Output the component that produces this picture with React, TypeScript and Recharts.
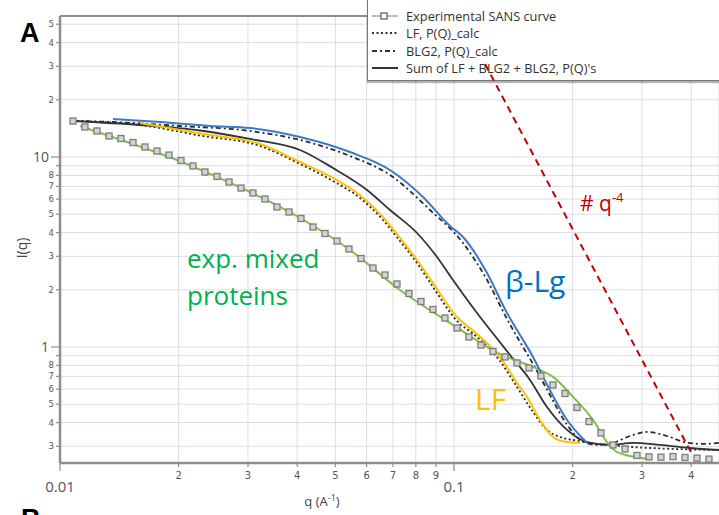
import React from 'react';
import { LineChart, Line, XAxis, YAxis, CartesianGrid, ReferenceLine } from 'recharts';

const W = 719;
const H = 515;
const MARGIN = { top: 16, right: 0, left: 0, bottom: 0 };
const X_DOMAIN: [number, number] = [0.01, 0.4705];
const Y_DOMAIN: [number, number] = [0.2451, 55.23];

// axis ticks
const xTicks = [0.01, 0.02, 0.03, 0.04, 0.05, 0.06, 0.07, 0.08, 0.09, 0.1, 0.2, 0.3, 0.4];
const xTickLabels = ['0.01', '2', '3', '4', '5', '6', '7', '8', '9', '0.1', '2', '3', '4'];
const yTicks = [0.3, 0.4, 0.5, 0.6, 0.7, 0.8, 0.9, 1, 2, 3, 4, 5, 6, 7, 8, 9, 10, 20, 30, 40, 50];
const yTickLabels = ['3', '4', '5', '6', '7', '8', '', '1', '2', '3', '4', '5', '6', '7', '8', '', '10', '2', '3', '4', '5'];
const majorTicks = [0.01, 0.1, 1, 10];

// Experimental SANS curve (squares)
const expQ = [0.01079, 0.01157, 0.01241, 0.01332, 0.01428, 0.01532, 0.01643, 0.01763, 0.01891, 0.02028,
  0.02175, 0.02333, 0.02503, 0.02685, 0.0288, 0.03089, 0.03313, 0.03554, 0.03812, 0.04089,
  0.04386, 0.04705, 0.05047, 0.05413, 0.05807, 0.06228, 0.06681, 0.07166, 0.07687, 0.08245,
  0.08844, 0.09487, 0.1018, 0.1091, 0.1171, 0.1256, 0.1347, 0.1445, 0.155, 0.1662,
  0.1783, 0.1913, 0.2052, 0.2201, 0.236, 0.2532, 0.2716, 0.2913, 0.3125, 0.3352,
  0.3595, 0.3857, 0.4137, 0.4437];
const expI = [15.47, 14.38, 13.71, 12.9, 12.51, 11.92, 11.29, 10.75, 10.24, 9.585,
  8.967, 8.337, 7.898, 7.385, 6.867, 6.464, 6.012, 5.456, 5.135, 4.746,
  4.281, 3.957, 3.613, 3.28, 2.922, 2.604, 2.393, 2.146, 1.912, 1.736,
  1.576, 1.421, 1.259, 1.129, 1.024, 0.947, 0.886, 0.824, 0.775, 0.704,
  0.631, 0.569, 0.48, 0.405, 0.353, 0.305, 0.2904, 0.2685, 0.264, 0.263,
  0.265, 0.262, 0.26, 0.257];

// exp. mixed proteins (green)
const greenQ = [0.01124, 0.01479, 0.01981, 0.02403, 0.03035, 0.04066, 0.05445, 0.07293, 0.09769, 0.1308,
  0.1653, 0.1784, 0.2005, 0.2253, 0.2445, 0.2593, 0.2797, 0.3144];
const greenI = [14.56, 11.99, 9.643, 8.137, 6.543, 4.775, 3.24, 1.995, 1.338, 0.919,
  0.757, 0.696, 0.546, 0.413, 0.316, 0.28, 0.267, 0.257];

// beta-Lg (blue)
const blueQ = [0.01363, 0.01794, 0.02403, 0.03035, 0.04066, 0.05445, 0.06879, 0.08344, 0.09769, 0.1054,
  0.1213, 0.1363, 0.1471, 0.1587, 0.1683, 0.1936, 0.2176];
const blueI = [15.85, 15.28, 14.56, 14.21, 12.74, 10.62, 8.542, 6.16, 4.333, 3.793,
  2.451, 1.51, 1.157, 0.886, 0.696, 0.413, 0.313];

// BLG2, P(Q)_calc (dash-dot)
const blgQ = [0.01079, 0.01363, 0.02016, 0.03035, 0.04066, 0.05445, 0.06879, 0.08693, 0.1054, 0.1213,
  0.1363, 0.1471, 0.1587, 0.1752, 0.1936, 0.2113, 0.2307, 0.2533, 0.2797, 0.309,
  0.3472, 0.3903, 0.4285, 0.4705];
const blgI = [15.47, 15.28, 14.56, 13.71, 12.29, 10.12, 8.04, 5.262, 3.526, 2.252,
  1.404, 1.062, 0.814, 0.559, 0.389, 0.32, 0.305, 0.313, 0.34, 0.357,
  0.34, 0.313, 0.309, 0.313];

// LF (orange)
const lfQ = [0.01596, 0.02266, 0.03219, 0.04066, 0.04931, 0.05773, 0.06603, 0.07293, 0.08054, 0.08846,
  0.1018, 0.1144, 0.1308, 0.1445, 0.1532, 0.1653, 0.1784, 0.1936, 0.2088];
const lfI = [15.1, 13.3, 11.71, 9.412, 7.755, 6.31, 4.833, 3.748, 2.87, 2.172,
  1.438, 1.171, 0.886, 0.647, 0.546, 0.413, 0.336, 0.316, 0.313];

// LF, P(Q)_calc (dotted)
const lfcQ = [0.01079, 0.01596, 0.02266, 0.03219, 0.04066, 0.04931, 0.05773, 0.06603, 0.07293, 0.08054,
  0.08846, 0.1018, 0.1144, 0.1308, 0.1445, 0.1587, 0.1722, 0.1858, 0.2005, 0.2214,
  0.2445, 0.2797, 0.3144, 0.3747, 0.4705];
const lfcI = [15.47, 14.74, 12.97, 11.43, 9.187, 7.476, 6.085, 4.661, 3.613, 2.768,
  2.069, 1.371, 1.129, 0.844, 0.616, 0.455, 0.366, 0.336, 0.324, 0.313,
  0.305, 0.298, 0.294, 0.29, 0.287];

// Sum of LF + BLG2 + BLG2 (solid black)
const sumQ = [0.01079, 0.01596, 0.02266, 0.03035, 0.04066, 0.04931, 0.06015, 0.06879, 0.08054, 0.09055,
  0.09942, 0.1144, 0.1271, 0.1387, 0.1559, 0.1722, 0.1936, 0.2176, 0.2489, 0.2847,
  0.3333, 0.3972, 0.4705];
const sumI = [15.47, 14.74, 13.79, 12.44, 10.89, 8.751, 6.706, 5.262, 3.981, 2.976,
  2.252, 1.51, 1.142, 0.908, 0.671, 0.483, 0.366, 0.316, 0.305, 0.313,
  0.305, 0.294, 0.287];

// q^-4 guide (red dashed)
const powQ = [0.1199, 0.4042];
const powI = [30.87, 0.2669];

const pts = (qs: number[], is: number[]) => qs.map((q, i) => ({ q, I: is[i] }));

const expData = pts(expQ, expI);
const greenData = pts(greenQ, greenI);
const blueData = pts(blueQ, blueI);
const blgData = pts(blgQ, blgI);
const lfData = pts(lfQ, lfI);
const lfcData = pts(lfcQ, lfcI);
const sumData = pts(sumQ, sumI);
const powData = pts(powQ, powI);

const FONT = '"Open Sans", "DejaVu Sans", sans-serif';
const SMALL_FONT = '"DejaVu Sans", sans-serif';
const TICK_COLOR = '#555';
const AXIS_COLOR = '#8e8e8e';

const findIdx = (arr: number[], v: number) => arr.findIndex((t) => Math.abs(t - v) < 1e-9);
const isMajor = (v: number) => majorTicks.some((t) => Math.abs(t - v) < 1e-9);

const XTick = (props: any) => {
  const { x, y, payload } = props;
  const v = payload.value;
  const label = xTickLabels[findIdx(xTicks, v)];
  const major = isMajor(v);
  return (
    <g>
      <line x1={x} x2={x} y1={y} y2={y + (major ? 8 : 4)} stroke={AXIS_COLOR} strokeWidth={1.2} />
      {label ? (
        <text x={x} y={major ? y + 29 : y + 16} textAnchor="middle" fontSize={major ? 15 : 10} fill={TICK_COLOR} fontFamily={major ? FONT : SMALL_FONT}>
          {label}
        </text>
      ) : null}
    </g>
  );
};

const YTick = (props: any) => {
  const { x, y, payload } = props;
  const v = payload.value;
  const label = yTickLabels[findIdx(yTicks, v)];
  const major = isMajor(v);
  const len = major ? 9 : 4;
  return (
    <g>
      <line x1={x - len} x2={x} y1={y} y2={y} stroke={AXIS_COLOR} strokeWidth={1.2} />
      {label ? (
        <text x={x - len - 2} y={y} dy="0.36em" textAnchor="end" fontSize={major ? 14 : 8.5} fill={TICK_COLOR} fontFamily={major ? FONT : SMALL_FONT}>
          {label}
        </text>
      ) : null}
    </g>
  );
};

const SquareDot = (props: any) => {
  const { cx, cy } = props;
  if (cx == null || cy == null) return null;
  return <rect x={cx - 3} y={cy - 3} width={6} height={6} fill="#d4d4d4" stroke="#7c7c7c" strokeWidth={1.3} />;
};

const layer: React.CSSProperties = { position: 'absolute', left: 0, top: 0 };

const LegendBox = () => (
  <div
    style={{
      position: 'absolute', left: 367, top: -3, width: 420, height: 84, boxSizing: 'border-box',
      border: '1.5px solid #777', background: '#fff', boxShadow: '0 2px 1px rgba(0,0,0,0.3)',
    }}
  >
    <svg width={420} height={84} style={{ position: 'absolute', left: -1.5, top: -1.5 }}>
      <line x1={5} x2={31} y1={19} y2={19} stroke="#777" strokeWidth={1} />
      <rect x={14} y={16} width={6} height={6} fill="#fff" stroke="#555" strokeWidth={1.2} />
      <line x1={5} x2={31} y1={36} y2={36} stroke="#333" strokeWidth={1.8} strokeDasharray="2 2.5" />
      <line x1={5} x2={31} y1={54} y2={54} stroke="#333" strokeWidth={1.8} strokeDasharray="5 3 2 3" />
      <line x1={5} x2={31} y1={71} y2={71} stroke="#333" strokeWidth={2} />
      <g fontFamily={FONT} fontSize={12.8} fill="#333">
        <text x={39} y={23.5}>Experimental SANS curve</text>
        <text x={39} y={40.5}>LF, P(Q)_calc</text>
        <text x={39} y={58.5}>BLG2, P(Q)_calc</text>
        <text x={39} y={75.5}>Sum of LF + BLG2 + BLG2, P(Q)'s</text>
      </g>
    </svg>
  </div>
);

export default function App() {
  return (
    <div style={{ ...layer, width: W, height: H, background: '#fff', fontFamily: FONT, overflow: 'hidden' }}>
      <div style={layer}>
        <LineChart width={W} height={H} margin={MARGIN}>
          <CartesianGrid stroke="#dcdce6" strokeWidth={1} />
          <XAxis
            dataKey="q" type="number" scale="log" domain={X_DOMAIN} allowDataOverflow
            ticks={xTicks} tick={(p: any) => <XTick {...p} />} tickLine={false} tickSize={0} tickMargin={0}
            height={52} axisLine={{ stroke: AXIS_COLOR, strokeWidth: 2.5 }} interval={0}
          />
          <YAxis
            dataKey="I" type="number" scale="log" domain={Y_DOMAIN} allowDataOverflow
            ticks={yTicks} tick={(p: any) => <YTick {...p} />} tickLine={false} tickSize={0} tickMargin={0}
            width={60} axisLine={{ stroke: AXIS_COLOR, strokeWidth: 2.5 }} interval={0}
          />
          <ReferenceLine y={Y_DOMAIN[1]} stroke={AXIS_COLOR} strokeWidth={2} />
          <Line data={lfcData} dataKey="I" type="monotone" stroke="#2b2b2b" strokeWidth={1.8} strokeDasharray="2 2.5" dot={false} isAnimationActive={false} />
          <Line data={blgData} dataKey="I" type="monotone" stroke="#2b2b2b" strokeWidth={1.8} strokeDasharray="5 3 2 3" dot={false} isAnimationActive={false} />
          <Line data={sumData} dataKey="I" type="monotone" stroke="#333" strokeWidth={1.8} dot={false} isAnimationActive={false} />
          <Line data={expData} dataKey="I" type="linear" stroke="none" dot={(p: any) => <SquareDot key={p.index} {...p} />} isAnimationActive={false} />
          <Line data={greenData} dataKey="I" type="monotone" stroke="#7dc242" strokeWidth={2} dot={false} isAnimationActive={false} />
          <Line data={lfData} dataKey="I" type="monotone" stroke="#ffc000" strokeWidth={2} dot={false} isAnimationActive={false} />
          <Line data={blueData} dataKey="I" type="monotone" stroke="#3b7ac4" strokeWidth={2} dot={false} isAnimationActive={false} />
        </LineChart>
      </div>

      <svg width={W} height={H} style={{ ...layer, pointerEvents: 'none' }}>
        <text x={20} y={42} fontSize={27} fontWeight="bold" fontFamily='"Liberation Sans", Arial, sans-serif' fill="#000">A</text>
        <text x={21} y={528} fontSize={27} fontWeight="bold" fontFamily='"Liberation Sans", Arial, sans-serif' fill="#000">B</text>
        <text transform="translate(27,248) rotate(-90)" textAnchor="middle" fontSize={14} fill="#444" fontFamily={FONT}>I(q)</text>
        <text x={322} y={506} textAnchor="middle" fontSize={13} fill="#444" fontFamily={FONT}>
          q (A<tspan dy={-5} fontSize={9}>-1</tspan><tspan dy={5}>)</tspan>
        </text>
        <g fontFamily={FONT}>
          <text x={187} y={268} fontSize={26} fill="#00b050">exp. mixed</text>
          <text x={187} y={305} fontSize={26} fill="#00b050">proteins</text>
          <text x={505} y={292} fontSize={30} fill="#0070c0">β-Lg</text>
          <text x={475} y={410} fontSize={30} fill="#ffc000">LF</text>
          <text x={580} y={211} fontSize={21} fill="#c00000">
            # q<tspan dy={-9} fontSize={13}>-4</tspan>
          </text>
        </g>
      </svg>

      <LegendBox />

      <div style={{ ...layer, pointerEvents: 'none' }}>
        <LineChart width={W} height={H} margin={MARGIN}>
          <XAxis dataKey="q" type="number" scale="log" domain={X_DOMAIN} allowDataOverflow height={52} axisLine={false} tickLine={false} tick={false} />
          <YAxis dataKey="I" type="number" scale="log" domain={Y_DOMAIN} allowDataOverflow width={60} axisLine={false} tickLine={false} tick={false} />
          <Line data={powData} dataKey="I" type="linear" stroke="#c00000" strokeWidth={2} strokeDasharray="7 5" dot={false} isAnimationActive={false} />
        </LineChart>
      </div>
    </div>
  );
}
